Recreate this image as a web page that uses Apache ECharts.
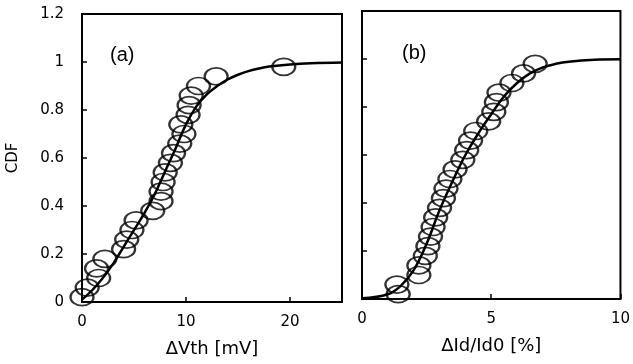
<!DOCTYPE html>
<html>
<head>
<meta charset="utf-8">
<script src="https://cdn.jsdelivr.net/npm/echarts@6/dist/echarts.min.js"></script>
<style>
  html, body { margin:0; padding:0; background:#fff; }
  #chart { width:633px; height:364px; }
</style>
</head>
<body>
<div id="chart"></div>
<script>
// CDF levels of the measured points (same for both panels)
const cdfLevels = [0.02,0.06,0.10,0.14,0.18,0.22,0.26,0.30,0.34,0.38,0.42,0.46,0.50,
                   0.54,0.58,0.62,0.66,0.70,0.74,0.78,0.82,0.86,0.90,0.94,0.98];
// (a) dVth [mV] of each point
const dVth = [0.0,0.5,1.6,1.4,2.2,4.0,4.3,4.8,5.2,6.8,7.6,7.6,7.8,
              8.0,8.5,8.8,9.4,9.8,9.5,10.2,10.3,10.5,11.2,12.9,19.4];
// (b) dId/Id0 [%] of each point
const dId = [1.4,1.35,2.2,2.2,2.45,2.55,2.65,2.75,2.85,3.0,3.15,3.25,3.4,
             3.6,3.9,4.05,4.2,4.4,4.9,5.1,5.2,5.3,5.8,6.25,6.7];

// fitted curves
const fitAx = [0,1,2,3,4,5,6,7,8,9,10,11,12,13,14,15,16,17,18,20,22,25];
const fitAy = [0.01,0.05,0.10,0.16,0.23,0.30,0.37,0.45,0.545,0.64,0.74,0.815,0.865,0.90,0.927,0.947,0.962,0.973,0.981,0.990,0.995,0.998];
const fitBx = [0,1,1.5,2,2.5,3,3.5,4,4.5,5,5.5,6,6.5,7,7.5,8,9,10];
const fitBy = [0.003,0.02,0.055,0.12,0.23,0.37,0.49,0.60,0.69,0.77,0.845,0.90,0.94,0.965,0.98,0.989,0.997,0.999];

const chart = echarts.init(document.getElementById('chart'));

const ellipse = 'path://M1,0A1,1,0,1,1,-1,0A1,1,0,1,1,1,0Z';
const tickFont = {fontFamily:'DejaVu Sans', fontSize:15, color:'#000'};
const nameFont = {fontFamily:'DejaVu Sans', fontSize:18, color:'#000'};

function xAx(idx, max, interval, name) {
  return {
    type:'value', gridIndex:idx, min:0, max:max, interval:interval,
    name:name, nameLocation:'middle', nameGap:38, nameTextStyle:nameFont,
    axisLine:{show:false},
    axisTick:{inside:true, length:5, lineStyle:{color:'#000', width:1.5}},
    axisLabel:{...tickFont, margin:13, showMaxLabel: max % interval === 0},
    splitLine:{show:false}
  };
}
function yAx(idx, showLabel) {
  return {
    type:'value', gridIndex:idx, min:0, max:1.2, interval:0.2,
    name: showLabel ? 'CDF' : '', nameLocation:'middle', nameGap:61,
    nameTextStyle:{fontFamily:'DejaVu Sans', fontSize:15, color:'#000'},
    axisLine:{show:false},
    axisTick:{inside:true, length:5, lineStyle:{color:'#000', width:1.5}},
    axisLabel:{...tickFont, show:showLabel, margin:18},
    splitLine:{show:false}
  };
}
function pts(xs) { return xs.map((x,i) => [x, cdfLevels[i]]); }
function curve(xs, ys) { return xs.map((x,i) => [x, ys[i]]); }

chart.setOption({
  animation:false,
  grid:[
    {left:82, top:14, width:260, height:288, show:true, borderColor:'#000', borderWidth:2, backgroundColor:'transparent'},
    {left:362, top:11, width:261, height:288, show:true, borderColor:'#000', borderWidth:2, backgroundColor:'transparent'}
  ],
  xAxis:[ xAx(0, 25, 10, 'ΔVth [mV]'), xAx(1, 10, 5, 'ΔId/Id0 [%]') ],
  yAxis:[ yAx(0, true), yAx(1, false) ],
  graphic:[
    {type:'text', left:110, top:45, style:{text:'(a)', font:'20px "Liberation Sans"', fill:'#000'}},
    {type:'text', left:402, top:43, style:{text:'(b)', font:'20px "Liberation Sans"', fill:'#000'}}
  ],
  series:[
    {type:'line', xAxisIndex:0, yAxisIndex:0, data:curve(fitAx, fitAy), smooth:0.4,
     showSymbol:false, lineStyle:{color:'#000', width:2.5}, z:3},
    {type:'scatter', xAxisIndex:0, yAxisIndex:0, data:pts(dVth), symbol:ellipse, symbolSize:[23,17], clip:false,
     itemStyle:{color:'rgba(0,0,0,0)', borderColor:'#000', borderWidth:2}, z:4},
    {type:'line', xAxisIndex:1, yAxisIndex:1, data:curve(fitBx, fitBy), smooth:0.4,
     showSymbol:false, lineStyle:{color:'#000', width:2.5}, z:3},
    {type:'scatter', xAxisIndex:1, yAxisIndex:1, data:pts(dId), symbol:ellipse, symbolSize:[23,17], clip:false,
     itemStyle:{color:'rgba(0,0,0,0)', borderColor:'#000', borderWidth:2}, z:4}
  ]
});
</script>
</body>
</html>
